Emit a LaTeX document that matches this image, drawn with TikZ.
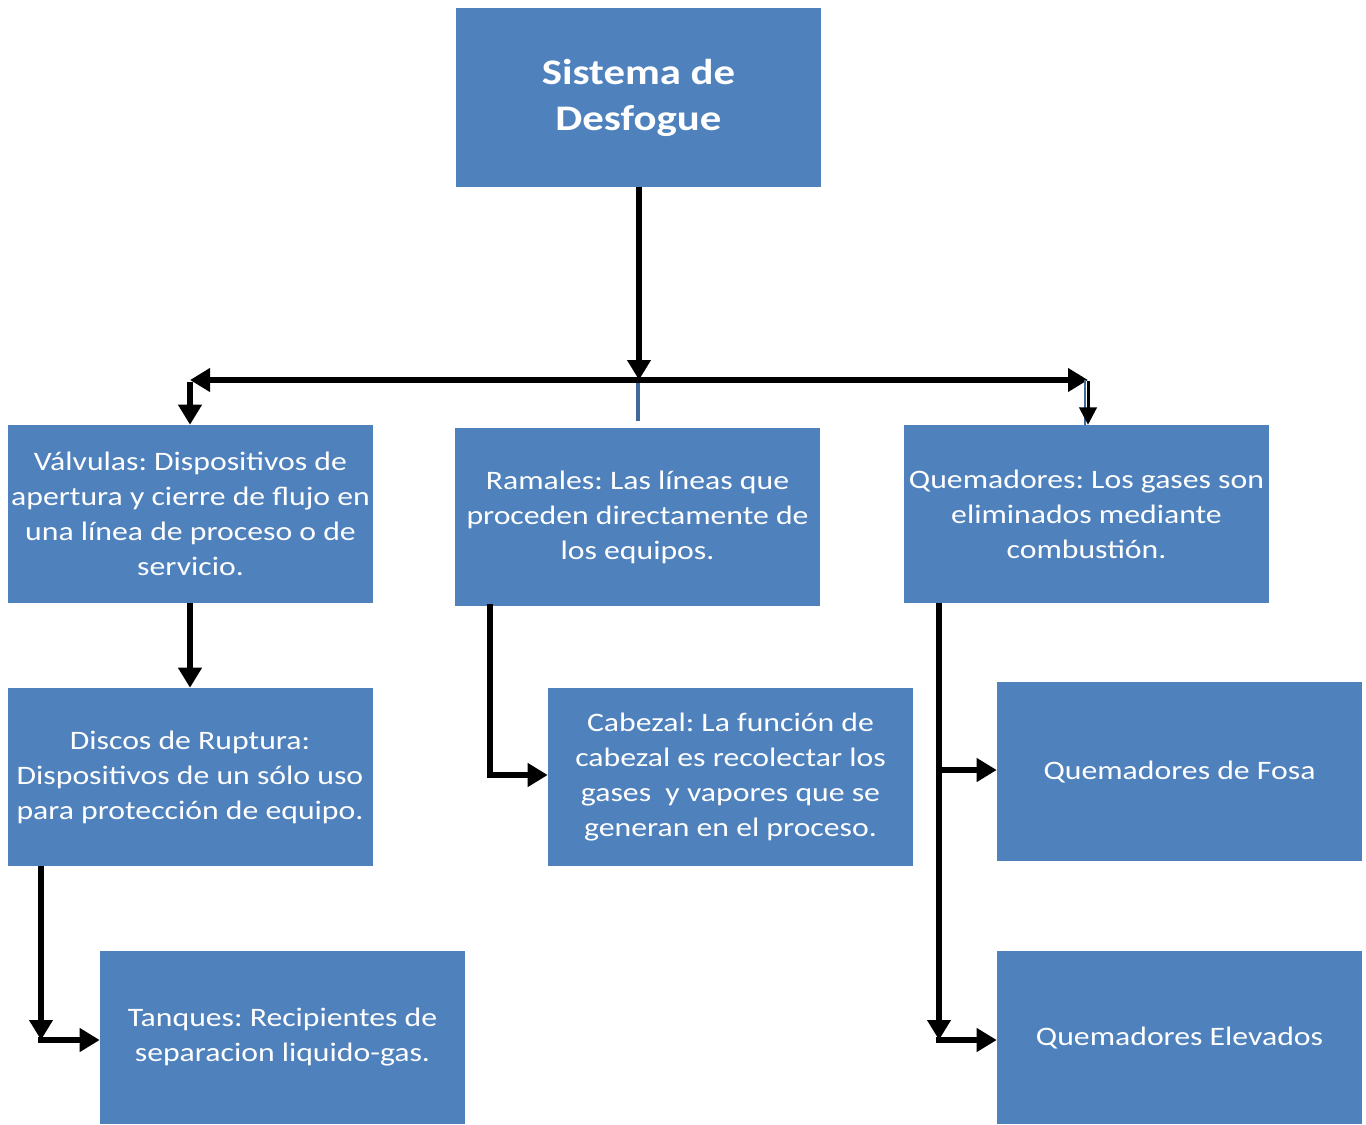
\documentclass[tikz,border=0pt]{standalone}
\usepackage{fontspec}
\setmainfont{Carlito}[FakeStretch=1.19]
\frenchspacing
\usetikzlibrary{arrows.meta,calc}
\definecolor{boxblue}{RGB}{79,129,189}
\definecolor{stubblue}{RGB}{63,106,155}
\begin{document}
\begin{tikzpicture}[x=0.75pt,y=-0.75pt,
  box/.style={rectangle,fill=boxblue,text=white,inner sep=0pt,align=center,
    minimum width=273.75pt,minimum height=133.5pt,
    font=\fontsize{20pt}{26.25pt}\selectfont},
  titlebox/.style={box,minimum height=134.25pt,
    font=\fontsize{27pt}{34.5pt}\selectfont\bfseries},
  arr/.style={line width=4pt,-{Triangle[length=15pt,width=17pt]}},
  thinarr/.style={line width=2.25pt,-{Triangle[length=13pt,width=13pt]}},
  dblarr/.style={line width=4pt,{Triangle[length=15pt,width=17pt]}-{Triangle[length=15pt,width=17pt]}},
  stubline/.style={line width=2.5pt,draw=stubblue}
]
\useasboundingbox (0,0) rectangle (1366,1124);

\node[titlebox] (title) at (638.5,97.5) {Sistema de\\Desfogue};
\node[box] (valv) at (190.5,514) {Válvulas: Dispositivos de\\apertura y cierre de flujo en\\una línea de proceso o de\\servicio.};
\node[box] (ram) at (637.5,517) {Ramales: Las líneas que\\proceden directamente de\\los equipos.};
\node[box] (quem) at (1086.5,514) {Quemadores: Los gases son\\eliminados mediante\\combustión.};
\node[box] (disc) at (190,777) {Discos de Ruptura:\\Dispositivos de un sólo uso\\para protección de equipo.};
\node[box] (cab) at (730.5,777) {Cabezal: La función de\\cabezal es recolectar los\\gases\ \ y vapores que se\\generan en el proceso.};
\node[box,minimum height=134.25pt] (fosa) at (1179.5,771.5) {Quemadores de Fosa};
\node[box,minimum height=129.75pt] (elev) at (1179.5,1037.5) {Quemadores Elevados};
\node[box,minimum height=129.75pt] (tanq) at (282.5,1037.5) {Tanques: Recipientes de\\separacion liquido-gas.};

\coordinate (jc) at (639,380);
\coordinate (jl) at (190,380);
\coordinate (jr) at (1088,380);
\coordinate (st1) at (638,382);
\coordinate (st2) at (638,421);
\coordinate (dk) at (41,1040);
\coordinate (rk) at (490,775);
\coordinate (qk1) at (939,770);
\coordinate (qk2) at (939,1040);

\draw[stubline] (st1) -- (st2);
\draw[arr] (title.south -| jc) -- (jc);
\draw[dblarr] (jl) -- (jr);
\draw[arr] ([yshift=-1.5pt]jl) -- (jl |- valv.north);
\draw[stubblue,line width=1.5pt] ([xshift=-2pt]jr) -- ([xshift=-2pt]jr |- quem.north);
\draw[thinarr] ([yshift=-1pt]jr) -- (jr |- quem.north);
\draw[arr] (valv.south -| jl) -- (jl |- disc.north);
\draw[arr] (disc.south -| dk) -- (dk);
\draw[arr] ([xshift=-2pt]dk) -- (dk -| tanq.west);
\draw[arr,line cap=rect] (ram.south -| rk) -- (rk) -- (rk -| cab.west);
\draw[arr] (quem.south -| qk2) -- (qk2);
\draw[arr] (qk1) -- (qk1 -| fosa.west);
\draw[arr] ([xshift=-2pt]qk2) -- (qk2 -| elev.west);
\end{tikzpicture}
\end{document}
